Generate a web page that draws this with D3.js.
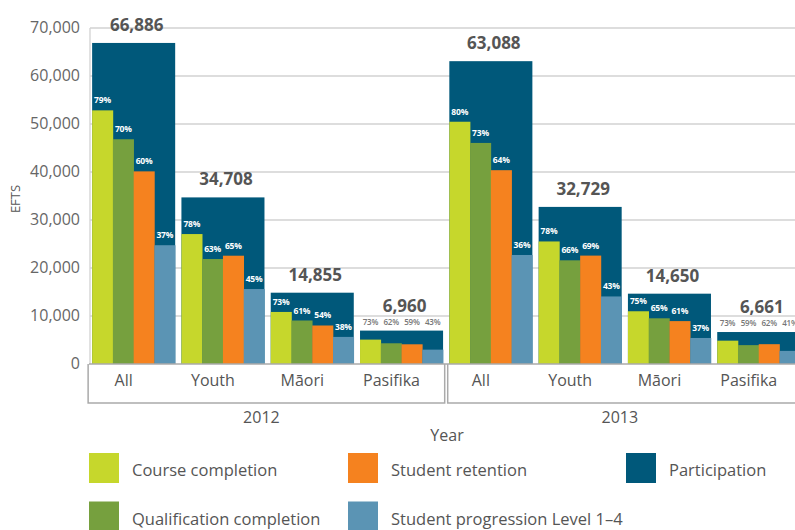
<!DOCTYPE html>
<html>
<head>
<meta charset="utf-8">
<script src="https://cdnjs.cloudflare.com/ajax/libs/d3/7.8.5/d3.min.js"></script>
<style>
  html, body { margin: 0; padding: 0; background: #fff; }
  svg { display: block; font-family: "Open Sans", sans-serif; }
</style>
</head>
<body>
<svg id="chart" width="795" height="530"></svg>
<script>
"use strict";

/*
 * EFTS by group and year: participation with completion/retention/progression rates.
 */

const years = ["2012", "2013"];
const groups = ["All", "Youth", "Māori", "Pasifika"];

// Per year, in group order (2012 then 2013).
const participation = [66886, 34708, 14855, 6960, 63088, 32729, 14650, 6661];
const courseCompletion = [79, 78, 73, 73, 80, 78, 75, 73];
const qualificationCompletion = [70, 63, 61, 62, 73, 66, 65, 59];
const studentRetention = [60, 65, 54, 59, 64, 69, 61, 62];
const studentProgression = [37, 45, 38, 43, 36, 43, 37, 41];

const seriesNames = ["Course completion", "Qualification completion",
                     "Student retention", "Student progression Level 1–4"];
const seriesRates = [courseCompletion, qualificationCompletion,
                     studentRetention, studentProgression];
const seriesColors = ["#c6d72c", "#76a03e", "#f5821f", "#5b94b4"];
const participationName = "Participation";
const participationColor = "#00587a";

const yTicks = [0, 10000, 20000, 30000, 40000, 50000, 60000, 70000];

function draw() {
  let svg = d3.select("#chart");
  const width = 795;

  let y = d3.scaleLinear().domain([0, 70000]).range([364, 28]);

  let keys = [];
  for (let yr of years) {
    for (let g of groups) {
      keys.push(yr + "|" + g);
    }
  }
  let x = d3.scaleBand()
      .domain(keys)
      .range([89, 803.4])
      .paddingInner(0.07)
      .paddingOuter(0.035);
  let inner = d3.scaleBand()
      .domain(d3.range(seriesNames.length))
      .range([0, x.bandwidth()]);

  let rows = keys.map((k, i) => ({
    key: k,
    year: k.split("|")[0],
    group: k.split("|")[1],
    total: participation[i],
    rates: seriesRates.map(s => s[i])
  }));

  // grid
  svg.append("g")
    .selectAll("line")
    .data(yTicks.slice(1))
    .enter().append("line")
    .attr("x1", 90).attr("x2", width)
    .attr("y1", d => y(d)).attr("y2", d => y(d))
    .attr("stroke", "#d2d2d2")
    .attr("stroke-width", 1.3);
  svg.append("line")
    .attr("x1", 90).attr("x2", 90)
    .attr("y1", y(70000)).attr("y2", y(0))
    .attr("stroke", "#d2d2d2")
    .attr("stroke-width", 1.3);

  // y axis labels
  svg.append("g")
    .selectAll("text")
    .data(yTicks)
    .enter().append("text")
    .attr("x", 80)
    .attr("y", d => y(d) + 4.5)
    .attr("text-anchor", "end")
    .attr("font-size", 16)
    .attr("fill", "#666")
    .text(d => d3.format(",")(d));

  svg.append("text")
    .attr("transform", "translate(20,199) rotate(-90)")
    .attr("text-anchor", "middle")
    .attr("font-size", 13)
    .attr("fill", "#555")
    .text("EFTS");

  // participation bars
  let group = svg.append("g")
    .selectAll("g")
    .data(rows)
    .enter().append("g")
    .attr("transform", d => `translate(${x(d.key)},0)`);

  group.append("rect")
    .attr("x", 0)
    .attr("width", x.bandwidth())
    .attr("y", d => y(d.total))
    .attr("height", d => y(0) - y(d.total))
    .attr("fill", participationColor);

  // rate bars inside
  group.each(function(d) {
    let g = d3.select(this);
    let top = y(d.total);
    let bars = d.rates.map((r, j) => ({j: j, rate: r, value: d.total * r / 100}));
    let outside = y(bars[0].value) - top < 12;

    g.selectAll("rect.rate")
      .data(bars)
      .enter().append("rect")
      .attr("class", "rate")
      .attr("x", b => inner(b.j))
      .attr("width", inner.bandwidth() + 0.3)
      .attr("y", b => y(b.value))
      .attr("height", b => y(0) - y(b.value))
      .attr("fill", b => seriesColors[b.j]);

    g.selectAll("text.rate")
      .data(bars)
      .enter().append("text")
      .attr("class", "rate")
      .attr("x", b => inner(b.j) + inner.bandwidth() / 2)
      .attr("y", b => outside ? top - 6 : y(b.value) - 7)
      .attr("text-anchor", "middle")
      .attr("font-size", outside ? 8 : 8.5)
      .attr("font-weight", outside ? 600 : 700)
      .attr("letter-spacing", -0.2)
      .attr("fill", outside ? "#777" : "#fff")
      .text(b => b.rate + "%");

    g.append("text")
      .attr("x", x.bandwidth() / 2 + 3)
      .attr("y", outside ? top - 19 : top - 12)
      .attr("text-anchor", "middle")
      .attr("font-size", 17)
      .attr("font-weight", 700)
      .attr("fill", "#555")
      .text(d3.format(",")(d.total));
  });

  // x axis
  svg.append("line")
    .attr("x1", 89).attr("x2", width)
    .attr("y1", y(0)).attr("y2", y(0))
    .attr("stroke", "#aaa")
    .attr("stroke-width", 1.5);

  svg.append("g")
    .selectAll("text")
    .data(rows)
    .enter().append("text")
    .attr("x", d => x(d.key) + x.bandwidth() / 2 - 10)
    .attr("y", 386)
    .attr("text-anchor", "middle")
    .attr("font-size", 16)
    .attr("fill", "#555")
    .text(d => d.group);

  // year brackets
  let step = x.step();
  years.forEach((yr, i) => {
    let first = x(yr + "|" + groups[0]);
    let last = x(yr + "|" + groups[groups.length - 1]) + x.bandwidth();
    let x0 = i === 0 ? first - 4 : first - (step - x.bandwidth()) / 2 + 1.5;
    let x1 = last + (step - x.bandwidth()) / 2 - 1.5;
    svg.append("path")
      .attr("d", `M${x0},${y(0)}V403H${x1}V${y(0)}`)
      .attr("fill", "none")
      .attr("stroke", "#aaa")
      .attr("stroke-width", 1.5);
    svg.append("text")
      .attr("x", (x0 + x1) / 2 - 5)
      .attr("y", 423)
      .attr("text-anchor", "middle")
      .attr("font-size", 16)
      .attr("fill", "#555")
      .text(yr);
  });

  svg.append("text")
    .attr("x", 447)
    .attr("y", 441)
    .attr("text-anchor", "middle")
    .attr("font-size", 16)
    .attr("fill", "#555")
    .text("Year");

  // legend
  let legendItems = [
    {name: seriesNames[0], color: seriesColors[0], col: 0, row: 0},
    {name: seriesNames[1], color: seriesColors[1], col: 0, row: 1},
    {name: seriesNames[2], color: seriesColors[2], col: 1, row: 0},
    {name: seriesNames[3], color: seriesColors[3], col: 1, row: 1},
    {name: participationName, color: participationColor, col: 2, row: 0}
  ];
  const colX = [89, 348, 626];
  const rowY = [453, 501.5];

  let legend = svg.append("g")
    .selectAll("g")
    .data(legendItems)
    .enter().append("g")
    .attr("transform", d => `translate(${colX[d.col]},${rowY[d.row]})`);
  legend.append("rect")
    .attr("width", 30)
    .attr("height", 30)
    .attr("fill", d => d.color);
  legend.append("text")
    .attr("x", 43)
    .attr("y", 23)
    .attr("font-size", 16.5)
    .attr("fill", "#555")
    .text(d => d.name);
}

draw();
</script>
</body>
</html>
